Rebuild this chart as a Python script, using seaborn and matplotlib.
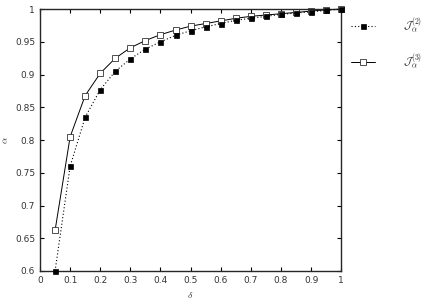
import numpy as np
import pandas as pd
import matplotlib
matplotlib.use("Agg")
import matplotlib.pyplot as plt
import seaborn as sns

delta = [0.05, 0.1, 0.15, 0.2, 0.25, 0.3, 0.35, 0.4, 0.45, 0.5,
         0.55, 0.6, 0.65, 0.7, 0.75, 0.8, 0.85, 0.9, 0.95, 1.0]
j2 = [0.600, 0.760, 0.835, 0.877, 0.905, 0.924, 0.939, 0.950, 0.960, 0.967,
      0.973, 0.978, 0.983, 0.986, 0.989, 0.992, 0.994, 0.996, 0.998, 1.000]
j3 = [0.662, 0.805, 0.868, 0.902, 0.925, 0.941, 0.952, 0.961, 0.968, 0.974,
      0.978, 0.982, 0.986, 0.989, 0.991, 0.993, 0.995, 0.997, 0.999, 1.000]
labels = [r"$\mathcal{J}_\alpha^{(2)}$", r"$\mathcal{J}_\alpha^{(3)}$"]
xticks = [0, 0.1, 0.2, 0.3, 0.4, 0.5, 0.6, 0.7, 0.8, 0.9, 1]
yticks = [0.6, 0.65, 0.7, 0.75, 0.8, 0.85, 0.9, 0.95, 1]

sns.set_style("ticks")
plt.rcParams['font.family'] = ['DejaVu Sans']
plt.rcParams['mathtext.fontset'] = 'cm'

df = pd.DataFrame({"delta": delta * 2, "alpha": j2 + j3,
                   "series": [labels[0]] * len(delta) + [labels[1]] * len(delta)})

fig = plt.figure(figsize=(4.34, 3.01), dpi=100)
ax = fig.add_axes([0.0922, 0.0997, 0.694, 0.870])

sns.lineplot(data=df[df.series == labels[0]], x="delta", y="alpha", ax=ax,
             color="black", linestyle=(0, (1, 2)), linewidth=0.8,
             marker="s", markersize=3.6, markerfacecolor="black",
             markeredgecolor="black", markeredgewidth=0.5,
             label=labels[0], legend=False, clip_on=False, zorder=3)
sns.lineplot(data=df[df.series == labels[1]], x="delta", y="alpha", ax=ax,
             color="black", linestyle="-", linewidth=0.7,
             marker="s", markersize=4.2, markerfacecolor="white",
             markeredgecolor="#333333", markeredgewidth=0.6,
             label=labels[1], legend=False, clip_on=False, zorder=2)

ax.set_xlim(0, 1)
ax.set_ylim(0.6, 1)
ax.set_xticks(xticks)
ax.set_xticklabels([f"{t:g}" for t in xticks])
ax.set_yticks(yticks)
ax.set_yticklabels([f"{t:g}" for t in yticks])
ax.tick_params(direction="in", length=3, width=0.8, labelsize=6.5,
               top=True, right=True, colors="black", labelcolor="#333333")
for s in ax.spines.values():
    s.set_visible(True)
    s.set_linewidth(1.0)
ax.set_xlabel(r"$\delta$", fontsize=7, color="#333333", labelpad=4)
ax.set_ylabel(r"$\alpha$", fontsize=7, color="#333333", labelpad=3)

handles, lbls = ax.get_legend_handles_labels()
fig.legend(handles, lbls, loc="upper left", bbox_to_anchor=(0.785, 0.982),
           frameon=False, handlelength=2.2, handletextpad=2.5,
           labelspacing=1.55, fontsize=8)

fig.savefig("out.png", dpi=100)
